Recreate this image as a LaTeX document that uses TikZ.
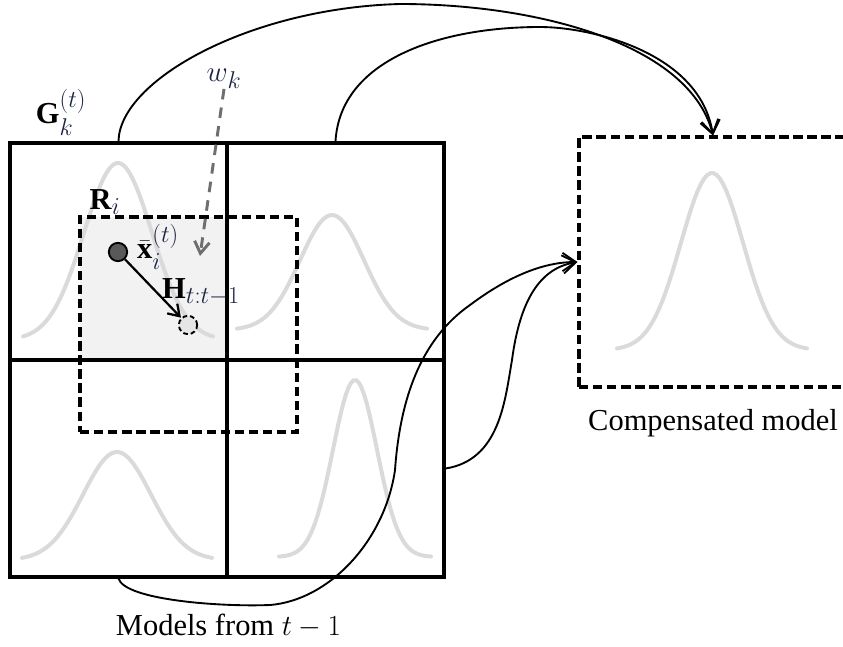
\documentclass[tikz,border=0pt]{standalone}
\usepackage{amsmath,amssymb}
\usepackage{fontspec}
\setmainfont{Liberation Serif}
\usetikzlibrary{arrows.meta,positioning}
\DeclareMathSizes{26}{26}{20.5}{15}
\definecolor{GridBlack}{HTML}{000000}
\definecolor{BumpGray}{HTML}{DADADA}
\definecolor{RegionFill}{HTML}{F2F2F2}
\definecolor{FlowGray}{HTML}{6E6E6E}
\definecolor{MathNavy}{HTML}{1C2444}
\newcommand{\nv}[1]{{\color{MathNavy}#1}}

\begin{document}
\begin{tikzpicture}[
    x=0.03cm, y=-0.03cm,
    cell/.style={draw=GridBlack,line width=2.6pt,minimum width=6.51cm,minimum height=6.51cm,inner sep=0pt},
    gcell/.style={cell,line width=3.4pt},
    dbox/.style={draw=GridBlack,line width=2.6pt,dash pattern=on 8pt off 4pt,inner sep=0pt},
    gauss/.style={BumpGray,line width=3.4pt,line cap=round},
    lbl/.style={inner sep=0pt,font=\fontsize{26}{30}\selectfont},
    caption/.style={inner sep=0pt,font=\fontsize{26}{30}\selectfont},
    arr/.style={-{Straight Barb[length=4mm,width=5.5mm]},line width=1.6pt},
    harr/.style={-{Straight Barb[length=3.2mm,width=4.2mm]},line width=1.9pt},
    warr/.style={-{Straight Barb[length=3.5mm,width=4.5mm]},FlowGray,line width=2.5pt,dash pattern=on 9pt off 7pt}
  ]
    \useasboundingbox (0,0) rectangle (843,647);
    % shaded part of the region inside the grid cell
    \fill[RegionFill] (80,217) rectangle (227,360);
    % gaussian bumps: centre / base / height / sigma / half range
    \foreach \c/\b/\a/\s/\r in {118/340/177/34/95, 332/330/115/32/95, 117/560/108/34/95, 355/557/177/22/76, 712/350/177/31/95}
      \draw[gauss] plot[domain=\c-\r:\c+\r,samples=60] (\x,{\b-\a*exp(-((\x-\c)^2)/(2*\s*\s))});
    % grid of models
    \node[cell] (c12) at (335.5,251.5) {};
    \node[cell] (c21) at (118.5,468.5) {};
    \node[cell] (c22) at (335.5,468.5) {};
    \node[gcell] (c11) at (118.5,251.5) {};
    \node[dbox,minimum width=6.51cm,minimum height=6.45cm] (rbox) at (188.5,324.5) {};
    \node[dbox,minimum width=8.04cm,minimum height=7.5cm] (comp) at (713,262) {};
    % labels
    \node[lbl] (glab) at (61,112) {$\mathbf{G}_{\nv{k}}^{\nv{(t)}}$};
    \node[lbl] (rlab) at (105,202) {$\mathbf{R}_{\nv{i}}$};
    \node[lbl] (wk) at (224,79) {$\nv{w}_{\nv{k}}$};
    \node[lbl] (xlab) at (158,247) {$\bar{\mathbf{x}}_{\nv{i}}^{\nv{(t)}}$};
    \node[lbl] (hlab) at (201,292) {$\mathbf{H}_{\nv{t:t-1}}$};
    \node[caption,below=0.62cm of comp] (compcap) {Compensated model};
    \node[caption,below=1.05cm of c21.south east] (gridcap) {Models from $t-1$};
    % mean and its shifted position
    \node[circle,draw,line width=1.6pt,fill=black!65,minimum size=0.55cm,inner sep=0pt] (xbar) at (118,252) {};
    \node[circle,draw,dash pattern=on 4pt off 2.5pt,line width=1.6pt,fill=black!10,minimum size=0.55cm,inner sep=0pt] (xhat) at (188,325) {};
    \coordinate (wend) at (200,256);
    \draw[harr] (xbar) -- (xhat);
    \draw[warr] (wk.south) -- (wend);
    % flows into the compensated model
    \draw[arr] (c11.north) .. controls (120,80) and (250,8) .. (400,4) .. controls (540,4) and (690,45) .. (comp.north);
    \draw[arr] (c12.north) .. controls (340,60) and (440,27) .. (540,27) .. controls (590,27) and (700,52) .. (comp.north);
    \draw[arr] (c22.east) .. controls (500,460) and (505,400) .. (512,360) .. controls (520,300) and (540,268) .. (comp.west);
    \draw[arr] (c21.south) .. controls (125,600) and (220,607) .. (270,605) .. controls (330,600) and (385,540) .. (395,470) .. controls (400,400) and (420,340) .. (470,305) .. controls (510,275) and (545,262) .. (comp.west);
  \end{tikzpicture}
\end{document}
